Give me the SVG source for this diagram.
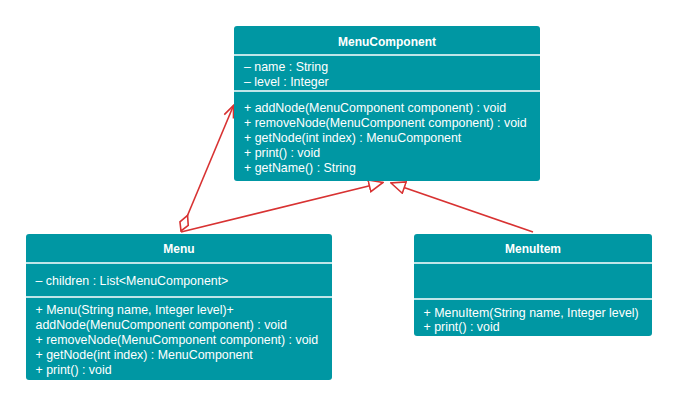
<svg xmlns="http://www.w3.org/2000/svg" width="679" height="406" viewBox="0 0 679 406">
<style>
.box{fill:#0097a3;}
.div{stroke:#ffffff;stroke-width:1.5;}
text{font-family:"Liberation Sans","Noto Sans",Arial,sans-serif;font-size:12.4px;fill:#ffffff;}
.title{font-weight:bold;text-anchor:middle;font-size:12px;}
.conn{stroke:#d83232;stroke-width:1.6;fill:none;}
</style>
<defs>
<marker id="tri" markerUnits="userSpaceOnUse" markerWidth="16" markerHeight="14" refX="14" refY="6" orient="auto" viewBox="-1 -1 16 14">
<path d="M0,0 L14,6 L0,12 Z" fill="#ffffff" stroke="#d83232" stroke-width="1.6"/>
</marker>
<marker id="open" markerUnits="userSpaceOnUse" markerWidth="14" markerHeight="12" refX="12" refY="5" orient="auto" viewBox="-1 -1 14 12">
<path d="M0,0 L12,5 L0,10" fill="none" stroke="#d83232" stroke-width="1.6"/>
</marker>
<marker id="dia" markerUnits="userSpaceOnUse" markerWidth="20" markerHeight="12" refX="0" refY="5" orient="auto" viewBox="-1 -1 20 12">
<path d="M0,5 L8,0.5 L17,5 L8,9.5 Z" fill="#ffffff" stroke="#d83232" stroke-width="1.6"/>
</marker>
</defs>
<g id="connectors">
<path class="conn" d="M181,231 L233.5,105.5" marker-start="url(#dia)" marker-end="url(#open)"/>
<path class="conn" d="M181,232 L383,182.5" marker-end="url(#tri)"/>
<path class="conn" d="M533,232 L391,183" marker-end="url(#tri)"/>
</g>
<g id="MenuComponent">
<rect class="box" x="234" y="26" width="306" height="155" rx="3"/>
<line class="div" x1="234" y1="55" x2="540" y2="55"/>
<line class="div" x1="234" y1="91" x2="540" y2="91"/>
<text class="title" x="387" y="45.5">MenuComponent</text>
<text x="244" y="71">– name : String</text>
<text x="244" y="86">– level : Integer</text>
<text x="244" y="112">+ addNode(MenuComponent component) : void</text>
<text x="244" y="127">+ removeNode(MenuComponent component) : void</text>
<text x="244" y="142">+ getNode(int index) : MenuComponent</text>
<text x="244" y="157">+ print() : void</text>
<text x="244" y="172">+ getName() : String</text>
</g>
<g id="Menu">
<rect class="box" x="26" y="234" width="306" height="146" rx="3"/>
<line class="div" x1="26" y1="263" x2="332" y2="263"/>
<line class="div" x1="26" y1="297" x2="332" y2="297"/>
<text class="title" x="179" y="252.5">Menu</text>
<text x="35.5" y="284.5">– children : List&lt;MenuComponent&gt;</text>
<text x="35.5" y="313.5">+ Menu(String name, Integer level)+</text>
<text x="35.5" y="329">addNode(MenuComponent component) : void</text>
<text x="35.5" y="343.5">+ removeNode(MenuComponent component) : void</text>
<text x="35.5" y="359">+ getNode(int index) : MenuComponent</text>
<text x="35.5" y="373.5">+ print() : void</text>
</g>
<g id="MenuItem">
<rect class="box" x="414" y="234" width="238" height="102" rx="3"/>
<line class="div" x1="414" y1="263" x2="652" y2="263"/>
<line class="div" x1="414" y1="299" x2="652" y2="299"/>
<text class="title" x="533" y="252.5">MenuItem</text>
<text x="423.5" y="316.5">+ MenuItem(String name, Integer level)</text>
<text x="423.5" y="331">+ print() : void</text>
</g>
</svg>
